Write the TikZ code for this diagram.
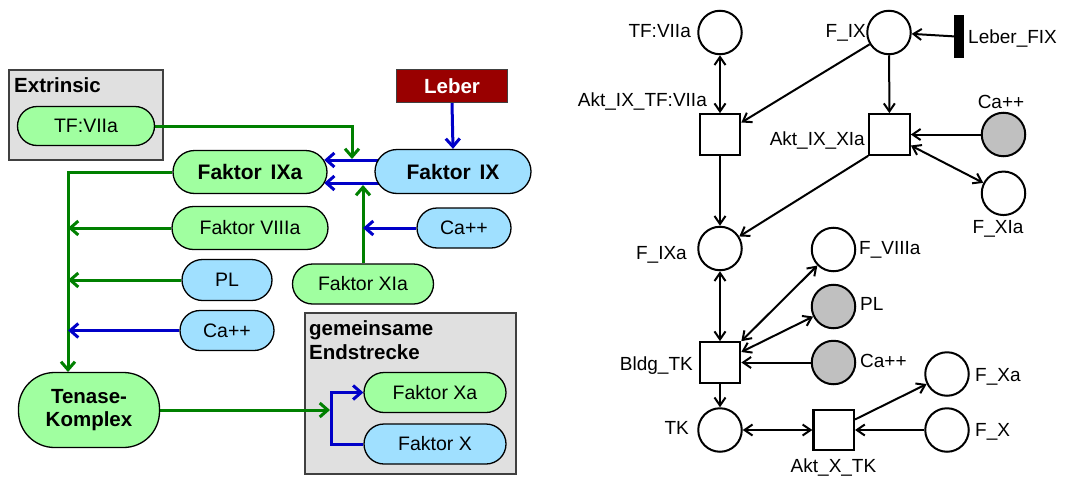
\documentclass[tikz,border=0pt]{standalone}
\usepackage{fontspec}
\setmainfont{Liberation Sans}
\usetikzlibrary{arrows.meta,calc}
\pgfdeclarelayer{boxes}
\pgfdeclarelayer{lines}
\pgfsetlayers{boxes,lines,main}
\definecolor{pillgreen}{RGB}{160,255,160}
\definecolor{pillblue}{RGB}{160,224,255}
\definecolor{lgreen}{RGB}{0,128,0}
\definecolor{lblue}{RGB}{0,0,200}
\definecolor{leberred}{RGB}{153,0,0}
\definecolor{boxgray}{RGB}{224,224,224}
\definecolor{boxedge}{RGB}{64,64,64}
\definecolor{placegray}{RGB}{192,192,192}
\tikzset{
  regtxt/.style={font=\fontsize{19.5pt}{23pt}\selectfont},
  boldtxt/.style={font=\fontsize{20.5pt}{23pt}\selectfont\bfseries, inner sep=0pt},
  pillwh/.style n args={3}{minimum width=#1pt, minimum height=#2pt, rounded corners=#3pt},
  gpill/.style={draw=black, line width=1.3pt, fill=pillgreen, inner sep=0pt, regtxt},
  bpill/.style={draw=black, line width=1.3pt, fill=pillblue, inner sep=0pt, regtxt},
  graybox/.style={draw=boxedge, line width=1.5pt, fill=boxgray, inner sep=0pt},
  garrow/.style={draw=lgreen, line width=3pt, -{Straight Barb[length=8pt,width=14pt]}},
  barrow/.style={draw=lblue, line width=3pt, -{Straight Barb[length=8pt,width=14pt]}},
  place/.style={circle, draw=black, line width=2pt, fill=white, minimum size=43.5pt, inner sep=0pt},
  gplace/.style={place, fill=placegray},
  trans/.style={rectangle, draw=black, line width=2.2pt, fill=white, minimum size=40.5pt, inner sep=0pt},
  lbl/.style={font=\fontsize{19pt}{22pt}\selectfont, inner sep=0pt},
  pn/.style={draw=black, line width=2pt, -{Straight Barb[length=8pt,width=11pt]}},
  pnb/.style={draw=black, line width=2pt, {Straight Barb[length=8pt,width=11pt]}-{Straight Barb[length=8pt,width=11pt]}}
}
\begin{document}
\begin{tikzpicture}[x=1pt,y=-1pt]
\useasboundingbox (0,0) rectangle (1069,477);

% ---------------- left diagram ----------------
\begin{pgfonlayer}{boxes}
\node[graybox, minimum width=154pt, minimum height=90pt] (extbox) at (86,115) {};
\node[graybox, minimum width=211pt, minimum height=161pt] (endbox) at (410.5,393.5) {};
\end{pgfonlayer}

\node[boldtxt, anchor=base west] (extlbl) at (14,92.5) {Extrinsic};
\node[boldtxt, anchor=base west] (gemlbl) at (309,335) {gemeinsame};
\node[boldtxt, anchor=base west] (endlbl) at (309,359) {Endstrecke};

\node[gpill, pillwh={137}{39}{19.5}] (tf) at (86,126) {TF:VIIa};
\node[draw=boxedge, line width=1.3pt, fill=leberred, text=white, minimum width=111pt, minimum height=33pt, inner sep=0pt, font=\fontsize{20.5pt}{23pt}\selectfont\bfseries] (leber) at (452,86) {Leber};
\node[gpill, pillwh={154}{43}{21.5}, font=\fontsize{21pt}{23pt}\selectfont\bfseries] (ixa) at (250,172) {Faktor\hspace{3pt} IXa};
\node[bpill, pillwh={156}{44}{22}, font=\fontsize{21pt}{23pt}\selectfont\bfseries] (ix) at (453,171.5) {Faktor\hspace{3pt} IX};
\node[gpill, pillwh={156}{43}{21.5}] (viiia) at (250,228) {Faktor VIIIa};
\node[bpill, pillwh={94}{40}{20}] (ca1) at (464,228) {Ca++};
\node[bpill, pillwh={90}{41}{20.5}] (pl) at (227,280) {PL};
\node[gpill, pillwh={141}{40}{20}] (xia) at (363,284) {Faktor XIa};
\node[bpill, pillwh={94}{40}{20}] (ca2) at (227,330.5) {Ca++};
\node[gpill, pillwh={141}{75}{36}, align=center, font=\fontsize{20.5pt}{22.5pt}\selectfont\bfseries] (tenase) at (89,410) {Tenase-\\Komplex};
\node[gpill, pillwh={142}{40}{20}] (xa) at (435,392.5) {Faktor Xa};
\node[bpill, pillwh={142}{40}{20}] (fx) at (435,444) {Faktor X};

\coordinate (tfdrop) at (352,159);
\coordinate (trunktop) at (68,172);
\coordinate (trunkbot) at (68,372);
\coordinate (xiajoin) at (363,185);
\coordinate (cajoin) at (363,228);
\coordinate (viiiajoin) at (68,228);
\coordinate (pljoin) at (68,280);
\coordinate (ca2join) at (68,330.5);
\coordinate (tenjoin) at (330,410);
\coordinate (brk) at (331,444);

\begin{pgfonlayer}{lines}
\draw[garrow] (tf.east) -| (tfdrop);
\draw[barrow] ($(ix.west)+(10,-11.5)$) -- ($(ixa.east)+(-3.5,-12)$);
\draw[barrow] ($(ix.west)+(10,11.5)$) -- ($(ixa.east)+(-3.5,11)$);
\draw[garrow] (xia.north) -- (xiajoin);
\draw[barrow] (ca1.west) -- (cajoin);
\draw[barrow] (leber.south) -- (ix.north);
\draw[garrow] (ixa.west) -- (trunktop) -- (trunkbot);
\draw[garrow] (viiia.west) -- (viiiajoin);
\draw[garrow] (pl.west) -- (pljoin);
\draw[barrow] (ca2.west) -- (ca2join);
\draw[garrow] (tenase.east) -- (tenjoin);
\draw[barrow] (fx.west) -- (brk) |- (xa.west);
\end{pgfonlayer}

% ---------------- Petri net ----------------
\node[place] (ptf) at (720,32.5) {};
\node[place] (pfix) at (889,32.5) {};
\node[rectangle, fill=black, minimum width=10pt, minimum height=43pt, inner sep=0pt] (tleber) at (959.3,36.7) {};
\node[trans] (takttf) at (720,134.5) {};
\node[trans] (taktxia) at (889.5,134.5) {};
\node[gplace] (pca1) at (1003.5,134.5) {};
\node[place] (pfxia) at (1003.5,193.3) {};
\node[place] (pfixa) at (720,248.5) {};
\node[place] (pfviiia) at (833.5,249.5) {};
\node[gplace] (ppl) at (833.5,306.5) {};
\node[trans] (tbldg) at (720,362.5) {};
\node[gplace] (pca2) at (833.5,362.5) {};
\node[place] (pfxa) at (947,374) {};
\node[place] (ptk) at (720,430) {};
\node[trans] (taktx) at (833.7,430) {};
\node[place] (pfx) at (947,430) {};

\node[lbl, anchor=base east] (lptf) at (691,37.3) {TF:VIIa};
\node[lbl, anchor=base east] (lpfix) at (866,37.3) {F\_IX};
\node[lbl, anchor=base west] (ltleber) at (968,43) {Leber\_FIX};
\node[lbl, anchor=base east] (ltakttf) at (707,106.5) {Akt\_IX\_TF:VIIa};
\node[lbl, anchor=base east] (ltaktxia) at (865,145.5) {Akt\_IX\_XIa};
\node[lbl, anchor=base] (lpca1) at (1001,108) {Ca++};
\node[lbl, anchor=base] (lpfxia) at (998,233.5) {F\_XIa};
\node[lbl, anchor=base east] (lpfixa) at (687,259) {F\_IXa};
\node[lbl, anchor=base west] (lpfviiia) at (859,254) {F\_VIIIa};
\node[lbl, anchor=base west] (lppl) at (860,310.5) {PL};
\node[lbl, anchor=base east] (ltbldg) at (693,370) {Bldg\_TK};
\node[lbl, anchor=base west] (lpca2) at (860,367) {Ca++};
\node[lbl, anchor=base west] (lpfxa) at (975,381.5) {F\_Xa};
\node[lbl, anchor=base east] (lptk) at (689,434) {TK};
\node[lbl, anchor=base west] (lpfx) at (975,436.5) {F\_X};
\node[lbl, anchor=base] (ltaktx) at (833.5,472.5) {Akt\_X\_TK};

\draw[pnb] (ptf) -- (takttf);
\draw[pn] (pfix) -- ($(takttf.east)+(0,-12)$);
\draw[pn] (pfix) -- (taktxia);
\draw[pn] (tleber) -- (pfix);
\draw[pn] (pca1) -- (taktxia);
\draw[pnb] (taktxia) -- (pfxia);
\draw[pn] (takttf) -- (pfixa);
\draw[pn] (taktxia.south west) -- (pfixa);
\draw[pnb] (pfixa) -- (tbldg);
\draw[pnb] (pfviiia) -- (tbldg.north east);
\draw[pnb] (ppl) -- (tbldg);
\draw[pn] (pca2) -- (tbldg);
\draw[pn] (tbldg) -- (ptk);
\draw[pnb] (ptk) -- (taktx);
\draw[pn] (taktx) -- (pfxa);
\draw[pn] (pfx) -- (taktx);
\end{tikzpicture}
\end{document}
